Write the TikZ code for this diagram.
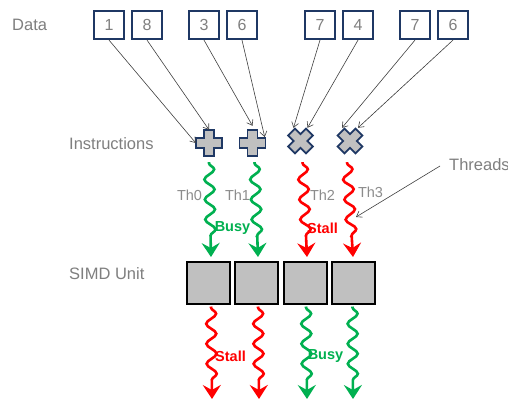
\documentclass[tikz,border=0pt]{standalone}
\usepackage{fontspec}
\setmainfont{Liberation Sans}
\usetikzlibrary{decorations.pathmorphing,arrows.meta,calc}
\definecolor{navy}{HTML}{1F3864}
\definecolor{txtgray}{HTML}{7F7F7F}
\definecolor{thgray}{HTML}{8C8C8C}
\definecolor{busy}{HTML}{00B050}
\definecolor{stall}{HTML}{FF0000}
\definecolor{boxgray}{HTML}{C0C0C0}
\definecolor{arrgray}{HTML}{404040}
\begin{document}
\begin{tikzpicture}[x=1pt,y=-1pt,
  lbl/.style={text=txtgray,font=\fontsize{16.5}{18}\selectfont,inner sep=0,anchor=west},
  databox/.style={draw=navy,line width=2.2pt,minimum width=30pt,minimum height=28pt,inner sep=0,text=txtgray,font=\fontsize{16}{18}\selectfont},
  instr/.style={minimum size=26pt,inner sep=0},
  simd/.style={draw=black,line width=2pt,fill=boxgray,minimum width=43pt,minimum height=42pt,inner sep=0},
  thlbl/.style={text=thgray,font=\fontsize{14.5}{16}\selectfont,inner sep=0},
  state/.style={font=\bfseries\fontsize{14.5}{16}\selectfont,inner sep=0},
  dataarrow/.style={draw=arrgray,line width=0.6pt,-{Straight Barb[length=5pt,width=7pt]}},
  wave/.style={line width=2.6pt,decorate,decoration={snake,amplitude=5pt,segment length=20pt,pre length=1pt,post length=13pt},-{Stealth[length=14pt,width=18pt,inset=5pt]}},
  plusshape/.pic={\draw[draw=navy,line width=1.8pt,fill=boxgray,line join=miter]
     (-5,-13) -- (5,-13) -- (5,-5) -- (13,-5) -- (13,5) -- (5,5) -- (5,13) -- (-5,13) -- (-5,5) -- (-13,5) -- (-13,-5) -- (-5,-5) -- cycle;}
]
\clip (0,0) rectangle (508,399);
\fill[white] (0,0) rectangle (508,399);

% labels
\node[lbl] (ldata) at (12,25) {Data};
\node[lbl] (linstr) at (69,144) {Instructions};
\node[lbl] (lsimd) at (69,274) {SIMD Unit};
\node[lbl] (lthreads) at (449,165) {Threads};

% data boxes
\node[databox] (d1) at (109,25) {1};
\node[databox] (d2) at (147,25) {8};
\node[databox] (d3) at (204,25) {3};
\node[databox] (d4) at (242,25) {6};
\node[databox] (d5) at (320,25) {7};
\node[databox] (d6) at (358,25) {4};
\node[databox] (d7) at (415,25) {7};
\node[databox] (d8) at (453,25) {6};

% instructions
\node[instr] (p1) at (209,143) {};
\node[instr] (p2) at (252.5,143) {};
\node[instr] (p3) at (300.5,141) {};
\node[instr] (p4) at (350,141) {};
\pic at (p1) {plusshape};
\pic at (p2) {plusshape};
\pic[rotate=45,scale=0.97] at (p3) {plusshape};
\pic[rotate=45,scale=0.97] at (p4) {plusshape};

% data arrows
\draw[dataarrow] (d1.south) -- (p1.west);
\draw[dataarrow] (d2.south) -- (p1.north);
\draw[dataarrow] (d3.south) -- ($(p2.north)+(0,-4)$);
\draw[dataarrow] (d4.south) -- ($(p2.east)+(-1,-6)$);
\draw[dataarrow] (d5.south) -- ($(p3.north)+(-7,0)$);
\draw[dataarrow] (d6.south) -- ($(p3.north)+(7,0)$);
\draw[dataarrow] (d7.south) -- ($(p4.north)+(-8,0)$);
\draw[dataarrow] (d8.south) -- ($(p4.north)+(8,0)$);

% SIMD boxes
\node[simd] (s1) at (208,282.5) {};
\node[simd] (s2) at (256,282.5) {};
\node[simd] (s3) at (305,282.5) {};
\node[simd] (s4) at (353.5,282.5) {};

% upper waves
\coordinate (u1) at (211,257);
\coordinate (u2) at (258,257);
\coordinate (u3) at (307,257);
\coordinate (u4) at (353,257);
\draw[wave,busy] ($(p1.south)+(0,6)$) -- (u1);
\draw[wave,busy] ($(p2.south)+(2,6)$) -- (u2);
\draw[wave,stall] ($(p3.south)+(2,8)$) -- (u3);
\draw[wave,stall] ($(p4.south)+(-3,8)$) -- (u4);

% lower waves
\coordinate (b1) at (212,399);
\coordinate (b2) at (259,399);
\coordinate (b3) at (307,399);
\coordinate (b4) at (353,399);
\draw[wave,stall] ($(s1.south)+(3,2)$) -- (b1);
\draw[wave,stall] ($(s2.south)+(2,2)$) -- (b2);
\draw[wave,busy] ($(s3.south)+(1,2)$) -- (b3);
\draw[wave,busy] ($(s4.south)+(-1,2)$) -- (b4);

% thread labels
\node[thlbl] (th0) at (189.5,195) {Th0};
\node[thlbl] (th1) at (237.5,195) {Th1};
\node[thlbl] (th2) at (322.5,195) {Th2};
\node[thlbl] (th3) at (370.5,192) {Th3};

% state labels
\node[state,text=busy] (busy1) at (232.5,228) {Busy};
\node[state,text=stall] (stall1) at (322.5,228) {Stall};
\node[state,text=stall] (stall2) at (230.5,356) {Stall};
\node[state,text=busy] (busy2) at (325.5,356) {Busy};

% threads pointer
\coordinate (tp) at (356,217);
\draw[dataarrow] ($(lthreads.west)+(-9,1)$) -- (tp);
\end{tikzpicture}
\end{document}
